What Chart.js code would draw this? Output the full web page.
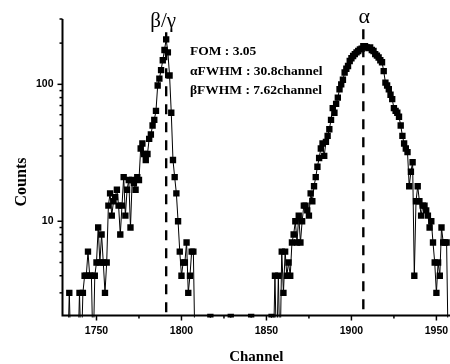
<!DOCTYPE html>
<html>
<head>
<meta charset="utf-8">
<script src="https://cdn.jsdelivr.net/npm/chart.js@4.4.0/dist/chart.umd.min.js"></script>
<style>
html,body{margin:0;padding:0;background:#fff;}
canvas{display:block;}
</style>
</head>
<body>
<canvas id="c" width="450" height="364"></canvas>
<script>
// ---- data ----
const betaChannels = [
1731,1732,1733,1734,1735,1736,1737,1738,1739,1740,
1741,1742,1743,1744,1745,1746,1747,1748,1749,1750,
1751,1752,1753,1754,1755,1756,1757,1758,1759,1760,
1761,1762,1763,1764,1765,1766,1767,1768,1769,1770,
1771,1772,1773,1774,1775,1776,1777,1778,1779,1780,
1781,1782,1783,1784,1785,1786,1787,1788,1789,1790,
1791,1792,1793,1794,1795,1796,1797,1798,1799,1800,
1801,1802,1803,1804,1805,1806,1807,1808];
const betaCounts = [
1,1,1,3,1,1,1,1,1,3,
1,3,4,4,6,4,4,1,4,5,
9,5,8,5,3,5,13,16,11,14,
15,17,13,8,13,21,11,17,20,9,
20,19,17,21,20,34,37,31,28,31,
40,43,50,55,64,98,110,127,150,178,
213,171,116,62,28,21,16,10,6,4,
5,5,7,3,4,6,6,1];
const gapChannels = [1816,1817,1818,1828,1829,1830,1840,1841,1842,1852,1853,1854];
const gapCounts   = [1,2,1,1,2,1,1,2,1,1,2,1];
const alphaChannels = [
1855,1856,1857,1858,1859,1860,1861,1862,1863,1864,
1865,1866,1867,1868,1869,1870,1871,1872,1873,1874,
1875,1876,1877,1878,1879,1880,1881,1882,1883,1884,
1885,1886,1887,1888,1889,1890,1891,1892,1893,1894,
1895,1896,1897,1898,1899,1900,1901,1902,1903,1904,
1905,1906,1907,1908,1909,1910,1911,1912,1913,1914,
1915,1916,1917,1918,1919,1920,1921,1922,1923,1924,
1925,1926,1927,1928,1929,1930,1931,1932,1933,1934,
1935,1936,1937,1938,1939,1940,1941,1942,1943,1944,
1945,1946,1947,1948,1949,1950,1951,1952,1953,1954,
1955,1956,1957];
const alphaCounts = [
4,1,4,1,6,3,6,4,5,4,
7,8,10,7,11,7,10,13,13,12,
11,16,14,18,21,25,29,34,37,30,
38,42,47,55,67,62,72,80,92,100,
108,122,130,136,148,155,161,166,171,175,
180,182,190,190,186,184,186,178,175,166,
162,157,150,145,125,103,98,92,84,78,
67,64,62,58,50,42,37,34,32,18,
23,27,4,14,18,14,11,13,13,12,
11,9,10,7,5,3,5,4,9,7,
7,7,1];

const peakChannels = [1791, 1907];
const peakLineTop  = [240, 252];
const peakLabels   = ['β/γ', 'α'];
const infoLines = ['FOM : 3.05', 'αFWHM : 30.8channel', 'βFWHM : 7.62channel'];

const xMajorTicks = [1750, 1800, 1850, 1900, 1950];
const xMinorTicks = [1775, 1825, 1875, 1925];
const yMajorTicks = [10, 100];
const yMinorTicks = [3,4,5,6,7,8,9,20,30,40,50,60,70,80,90,200,300];
const xRange = [1730, 1958];
const yRange = [2.05, 300];

// ---- build ----
const channels = betaChannels.concat(gapChannels, alphaChannels);
const counts = betaCounts.concat(gapCounts, alphaCounts);
const spectrum = channels.map((c, i) => ({x: c, y: counts[i]}));

const dashSets = peakChannels.map((c, i) => ({
  data: [{x: c, y: peakLineTop[i]}, {x: c, y: yRange[0]}],
  borderColor: '#000', borderWidth: 2.4, borderDash: [10, 8],
  pointRadius: 0, order: 2, clip: 0
}));

const near = (a, b) => Math.abs(a - b) < 1e-6 * Math.max(1, Math.abs(b));
const noPad = s => { s.paddingLeft = 0; s.paddingRight = 0; s.paddingTop = 0; s.paddingBottom = 0; };

const decor = {
  id: 'decor',
  afterDraw(chart) {
    const {ctx, chartArea: a, scales: {x, y}} = chart;
    ctx.save();
    ctx.strokeStyle = '#000';
    ctx.fillStyle = '#000';
    // axes
    ctx.lineWidth = 2;
    ctx.beginPath();
    ctx.moveTo(a.left, a.top); ctx.lineTo(a.left, a.bottom); ctx.lineTo(a.right, a.bottom);
    ctx.stroke();
    // ticks
    ctx.lineWidth = 1.5;
    const seg = (x1, y1, x2, y2) => { ctx.beginPath(); ctx.moveTo(x1, y1); ctx.lineTo(x2, y2); ctx.stroke(); };
    yMajorTicks.forEach(v => { const p = y.getPixelForValue(v); seg(a.left, p, a.left - 5, p); });
    yMinorTicks.forEach(v => { const p = y.getPixelForValue(v); seg(a.left, p, a.left - 3, p); });
    xMajorTicks.forEach(v => { const p = x.getPixelForValue(v); seg(p, a.bottom, p, a.bottom + 5); });
    xMinorTicks.forEach(v => { const p = x.getPixelForValue(v); seg(p, a.bottom, p, a.bottom + 3); });
    // axis titles
    ctx.font = 'bold 15px "Liberation Serif", "DejaVu Serif", serif';
    ctx.textAlign = 'center';
    ctx.textBaseline = 'alphabetic';
    ctx.fillText('Channel', (a.left + a.right) / 2, 361);
    ctx.save();
    ctx.translate(26, 182);
    ctx.rotate(-Math.PI / 2);
    ctx.font = 'bold 16px "Liberation Serif", "DejaVu Serif", serif';
    ctx.fillText('Counts', 0, 0);
    ctx.restore();
    // peak labels
    ctx.font = '21px "Liberation Serif", "DejaVu Serif", serif';
    ctx.fillText(peakLabels[0], x.getPixelForValue(peakChannels[0]) - 3, 27);
    ctx.font = '22px "Liberation Serif", "DejaVu Serif", serif';
    ctx.fillText(peakLabels[1], x.getPixelForValue(peakChannels[1]) + 1, 23);
    // info text
    ctx.font = 'bold 13.5px "Liberation Serif", "DejaVu Serif", serif';
    ctx.textAlign = 'left';
    [55, 75, 94].forEach((yy, i) => ctx.fillText(infoLines[i], 190, yy));
    ctx.restore();
  }
};

new Chart(document.getElementById('c'), {
  type: 'line',
  data: {
    datasets: [{
      data: spectrum,
      borderColor: '#000', borderWidth: 1,
      pointStyle: 'rect', pointRadius: 4.5,
      pointBackgroundColor: '#000', pointBorderColor: '#000', pointBorderWidth: 0,
      tension: 0, order: 1,
      clip: {left: 0, top: 4, right: 0, bottom: 2}
    }, ...dashSets]
  },
  options: {
    responsive: false,
    animation: false,
    events: [],
    layout: {autoPadding: false, padding: {left: 0, right: 0, top: 19, bottom: 0}},
    plugins: {legend: {display: false}, tooltip: {enabled: false}},
    scales: {
      x: {
        type: 'linear', min: xRange[0], max: xRange[1],
        afterFit(s) { s.height = 48.5; noPad(s); },
        grid: {display: false, drawTicks: false},
        border: {display: false},
        ticks: {
          stepSize: 25, autoSkip: false, includeBounds: false, maxRotation: 0, padding: 9, color: '#000',
          font: {family: '"Liberation Sans", Arial, sans-serif', weight: 'bold', size: 10.5},
          callback: v => xMajorTicks.some(t => near(v, t)) ? String(v) : ''
        }
      },
      y: {
        type: 'logarithmic', min: yRange[0], max: yRange[1],
        afterFit(s) { s.width = 62.5; noPad(s); },
        grid: {display: false, drawTicks: false},
        border: {display: false},
        ticks: {
          autoSkip: false, padding: 9, color: '#000',
          font: {family: '"Liberation Sans", Arial, sans-serif', weight: 'bold', size: 10.5},
          callback: v => { const m = yMajorTicks.find(t => near(v, t)); return m ? String(m) : ''; }
        }
      }
    }
  },
  plugins: [decor]
});
</script>
</body>
</html>
